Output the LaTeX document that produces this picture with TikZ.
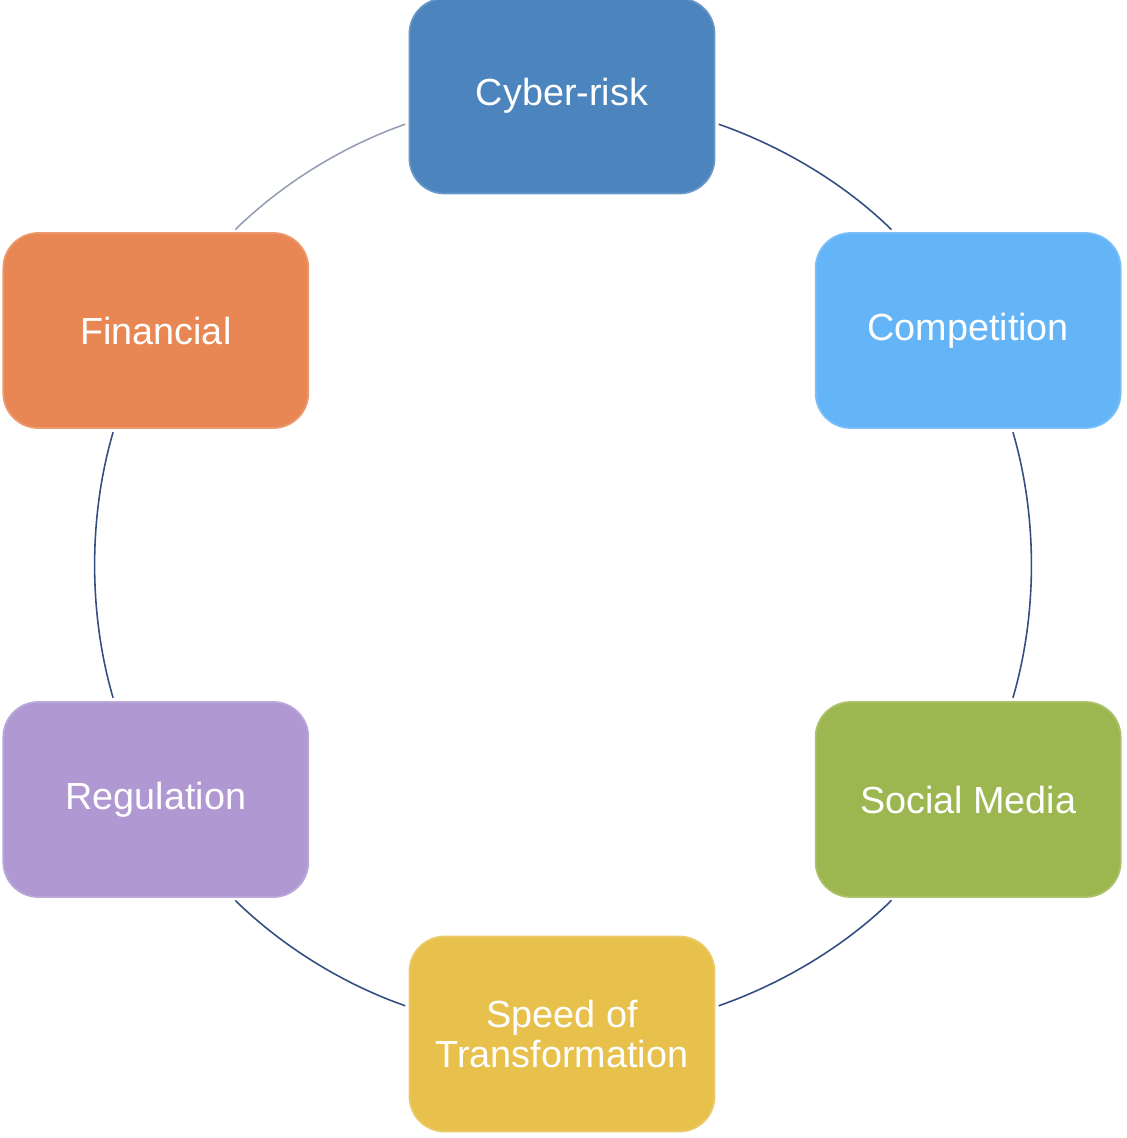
\documentclass[tikz,border=0pt]{standalone}
\usepackage{fontspec}
\setmainfont{Liberation Sans}
\usepackage{tikz}
\usetikzlibrary{arrows,positioning}

\definecolor{cyberblue}{RGB}{76,132,190}
\definecolor{compblue}{RGB}{100,180,248}
\definecolor{socialgreen}{RGB}{156,182,80}
\definecolor{speedyellow}{RGB}{232,193,76}
\definecolor{regpurple}{RGB}{176,152,210}
\definecolor{finorange}{RGB}{233,135,84}
\definecolor{ringblue}{RGB}{52,78,130}
\definecolor{ringgray}{RGB}{150,160,180}

\tikzset{
  topic/.style={rectangle, rounded corners=0.7cm, fill=#1, draw=#1!85!white,
    line width=1pt, minimum width=6.1cm, minimum height=3.9cm, text=white,
    align=center, font=\fontsize{21.5}{23}\selectfont},
  ring/.style={draw=ringblue, line width=0.9pt, looseness=0.86,
    shorten >=2pt, shorten <=2pt}
}

\begin{document}
\begin{tikzpicture}[>=latex]
    \useasboundingbox (-11.24,-11.46) rectangle (11.30,11.30);
    % six topics on a circle of radius 9.38
    \node[topic=cyberblue] (cyber) at (90:9.38) {Cyber-risk};
    \node[topic=compblue] (comp) at (30:9.38) {Competition};
    \node[topic=socialgreen] (social) at (-30:9.38) {Social Media};
    \node[topic=speedyellow] (speed) at (-90:9.38) {Speed of\\Transformation};
    \node[topic=regpurple] (reg) at (-150:9.38) {Regulation};
    \node[topic=finorange] (fin) at (150:9.38) {Financial};
    % ring arcs, clockwise
    \path[ring]
    (cyber.-10) edge[out=-19.3, in=135.6] (comp.127.7)
    (comp.-66.7) edge[out=-73.7, in=73.7] (social.66.7)
    (social.-127.7) edge[out=-135.6, in=19.3] (speed.10)
    (speed.170) edge[out=160.7, in=-44.4] (reg.-52.3)
    (reg.113.3) edge[out=106.3, in=-106.3] (fin.-113.3)
    (fin.52.3) edge[out=44.4, in=-160.7, draw=ringgray] (cyber.-170);
  \end{tikzpicture}
\end{document}
